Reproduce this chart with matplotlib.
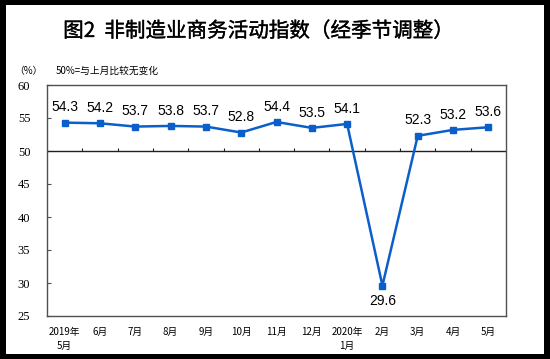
import matplotlib
matplotlib.use("Agg")
import matplotlib.pyplot as plt
import matplotlib.patheffects as pe
from matplotlib.patches import Rectangle
import numpy as np

plt.rcParams['font.family'] = ['Noto Sans CJK SC', 'DejaVu Sans']

# data
months = ["2019年\n5月", "6月", "7月", "8月", "9月", "10月", "11月", "12月",
          "2020年\n1月", "2月", "3月", "4月", "5月"]
pmi = [54.3, 54.2, 53.7, 53.8, 53.7, 52.8, 54.4, 53.5, 54.1, 29.6, 52.3, 53.2, 53.6]
yticks = [25, 30, 35, 40, 45, 50, 55, 60]

LINE_COLOR = "#0A5FCB"
SPINE_COLOR = "#505050"

fig = plt.figure(figsize=(5.5, 3.59), dpi=100)
fig.patch.set_facecolor("black")
# white card inside the black frame
fig.add_artist(Rectangle((6 / 550, 5 / 359), 538 / 550, 349 / 359,
                         transform=fig.transFigure, facecolor="white",
                         edgecolor="none", zorder=0))

ax = fig.add_axes([47 / 550, 1 - 316 / 359, 459 / 550, 231 / 359])
ax.set_facecolor("white")

x = np.arange(len(months))
ax.plot(x, pmi, color=LINE_COLOR, lw=1.8, marker="s", ms=4, zorder=3)

for xi, v in zip(x, pmi):
    if v < 50:
        ax.annotate(f"{v:.1f}", (xi, v), xytext=(0, -6), textcoords="offset points",
                    ha="center", va="top", fontsize=10, family="Liberation Sans")
    else:
        ax.annotate(f"{v:.1f}", (xi, v), xytext=(0, 6), textcoords="offset points",
                    ha="center", va="bottom", fontsize=10, family="Liberation Sans")

# 50 line with small category boundary ticks
ax.axhline(50, color="#202020", lw=1.0, zorder=2)
bounds = np.arange(len(months) - 1) + 0.5
ax.vlines(bounds, 50, 50.45, color="#202020", lw=0.8)

ax.set_xlim(-0.5, len(months) - 0.5)
ax.set_ylim(25, 60)
ax.set_xticks(x)
ax.set_xticklabels(months, fontsize=7, linespacing=1.5)
ax.tick_params(axis="x", length=0, pad=8)
ax.set_yticks(yticks)
ax.set_yticklabels([str(t) for t in yticks], fontsize=9, family="Liberation Serif")
ax.tick_params(axis="y", direction="in", length=3, pad=12, color=SPINE_COLOR)
for sp in ax.spines.values():
    sp.set_color(SPINE_COLOR)
    sp.set_linewidth(1.0)

title = fig.text(258 / 550, 1 - 31 / 359, "图2  非制造业商务活动指数（经季节调整）",
                 ha="center", va="center", fontsize=14.8)
title.set_path_effects([pe.withStroke(linewidth=0.25, foreground="black")])
fig.text(28 / 550, 1 - 71 / 359, "（%）", ha="center", va="center", fontsize=7)
fig.text(56 / 550, 1 - 71 / 359, "50%=与上月比较无变化", ha="left", va="center", fontsize=7)

fig.savefig("out.png", dpi=100, facecolor="black")
